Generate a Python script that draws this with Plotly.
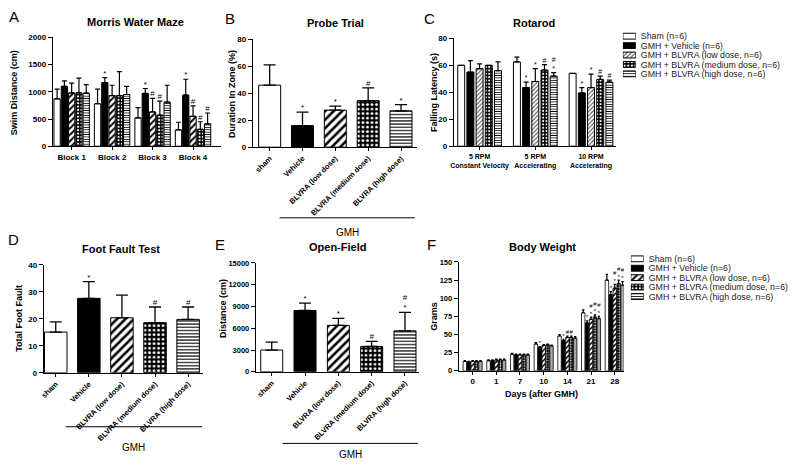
import plotly.graph_objects as go
import numpy as np

W, H = 800, 470
FONT = "Liberation Sans, Arial, sans-serif"

# ---------------- data ----------------
groups = ["Sham (n=6)", "GMH + Vehicle (n=6)", "GMH + BLVRA (low dose, n=6)",
          "GMH + BLVRA (medium dose, n=6)", "GMH + BLVRA (high dose, n=6)"]

# A: Morris water maze (swim distance, cm)
mwm_blocks = ["Block 1", "Block 2", "Block 3", "Block 4"]
mwm_sham = [870, 780, 520, 300]
mwm_vehicle = [1100, 1170, 970, 940]
mwm_low = [980, 930, 630, 550]
mwm_medium = [980, 930, 570, 310]
mwm_high = [975, 950, 810, 410]
mwm_sham_sem = [180, 270, 190, 140]
mwm_vehicle_sem = [100, 90, 90, 290]
mwm_low_sem = [180, 190, 250, 190]
mwm_medium_sem = [270, 440, 260, 140]
mwm_high_sem = [155, 150, 310, 200]
mwm_sham_sig = ["", "", "", ""]
mwm_vehicle_sig = ["", "*", "*", "*"]
mwm_low_sig = ["", "", "#", "#"]
mwm_medium_sig = ["", "", "#", "#"]
mwm_high_sig = ["", "", "", "#"]

# treatment labels for B, D, E
treat_labels = ["sham", "Vehicle", "BLVRA (low dose)", "BLVRA (medium dose)", "BLVRA (high dose)"]

# B: probe trial (duration in zone, %)
probe_mean = [46, 16, 27.5, 34.5, 27]
probe_sem = [15, 10, 3, 9.5, 4.5]
probe_sig = ["", "*", "*", "#", "*"]

# C: rotarod (falling latency, s)
rota_conditions = ["5 RPM<br>Constant Velocity", "5 RPM<br>Accelerating", "10 RPM<br>Accelerating"]
rota_sham = [60, 62.5, 54]
rota_vehicle = [55, 43.5, 39.5]
rota_low = [57.5, 48, 43.5]
rota_medium = [60, 56.5, 49.5]
rota_high = [56, 52, 47.5]
rota_sham_sem = [0, 3.5, 0]
rota_vehicle_sem = [8.5, 4, 4]
rota_low_sem = [3.5, 9.5, 10]
rota_medium_sem = [0, 4, 2.5]
rota_high_sem = [6.5, 2.5, 1.5]
rota_sham_sig = ["", "", ""]
rota_vehicle_sig = ["", "*", "*"]
rota_low_sig = ["", "*", "*"]
rota_medium_sig = ["", "#", "#"]
rota_high_sig = ["", "#<br>*", "#"]

# D: foot fault test
foot_mean = [15.1, 27.6, 20.4, 18.6, 19.8]
foot_sem = [3.8, 6.2, 8.4, 5.8, 4.6]
foot_sig = ["", "*", "", "#", "#"]

# E: open field (distance, cm)
open_mean = [3000, 8450, 6400, 3500, 5650]
open_sem = [1100, 1000, 950, 700, 2550]
open_sig = ["", "*", "*", "#", "#<br>*"]

# F: body weight (grams)
bw_days = ["0", "1", "7", "10", "14", "21", "28"]
bw_sham = [13, 14, 23, 37, 48, 80, 125]
bw_vehicle = [12, 14, 22, 32.5, 41.5, 66, 105]
bw_low = [13, 15, 22, 35, 46, 71, 114]
bw_medium = [13, 15, 22, 36, 46, 74, 120]
bw_high = [13, 15, 22, 34.5, 45, 72, 118]
bw_sham_sem = [1, 1, 1, 2, 2, 4, 8]
bw_vehicle_sem = [1, 1, 1, 1, 2, 3, 4]
bw_low_sem = [1, 1, 1, 1, 2, 3, 5]
bw_medium_sem = [1, 1, 1, 1, 2, 3, 5]
bw_high_sem = [1, 1, 1, 1, 2, 3, 5]
bw_sham_sig = ["", "", "", "", "", "", ""]
bw_vehicle_sig = ["", "", "", "*", "*", "*", "*"]
bw_low_sig = ["", "", "", "", "#", "#<br>*", "#<br>*"]
bw_medium_sig = ["", "", "", "", "#", "#<br>*", "#<br>*"]
bw_high_sig = ["", "", "", "", "", "#<br>*", "#<br>*"]

# ---------------- helpers ----------------
def xd(a, b):
    return [a / W, b / W]


def yd(top, bottom):
    return [1 - bottom / H, 1 - top / H]


def marker_for(i, scale=1.0, low_gray=False, lw=1.0):
    line = dict(color="black", width=lw)
    if i == 0:
        return dict(color="white", line=line)
    if i == 1:
        return dict(color="black", line=line)
    if i == 2:
        if low_gray:
            return dict(color="white", line=line,
                        pattern=dict(shape="/", fgcolor="#555", bgcolor="white",
                                     size=3, solidity=0.35, fillmode="replace"))
        return dict(color="white", line=line,
                    pattern=dict(shape="/", fgcolor="black", bgcolor="white",
                                 size=6 * scale, solidity=0.42, fillmode="replace"))
    if i == 3:
        return dict(color="black", line=line,
                    pattern=dict(shape=".", fgcolor="white", bgcolor="black",
                                 size=4.5 * scale, solidity=0.3, fillmode="replace"))
    return dict(color="white", line=line,
                pattern=dict(shape="-", fgcolor="black", bgcolor="white",
                             size=3.2 * scale, solidity=0.35, fillmode="replace"))


fig = go.Figure()


def add_grouped(ax, series, sems, sigs, step, width, cap, sigsize, scale=1.0,
                low_gray=False, lw=1.0):
    for i, (vals, sem, sig) in enumerate(zip(series, sems, sigs)):
        xs = np.arange(len(vals)) + (i - 2) * step
        fig.add_trace(go.Bar(
            x=xs, y=vals, width=width, xaxis="x" + ax, yaxis="y" + ax,
            marker=marker_for(i, scale, low_gray, lw),
            error_y=dict(type="data", array=sem, arrayminus=[0] * len(sem),
                         symmetric=False, color="black", thickness=1.2, width=cap),
            showlegend=False, hoverinfo="skip"))
        tops = [v + s for v, s in zip(vals, sem)]
        fig.add_trace(go.Scatter(
            x=xs, y=tops, mode="text", text=sig, textposition="top center",
            textfont=dict(family=FONT, size=sigsize, color="black"),
            xaxis="x" + ax, yaxis="y" + ax, cliponaxis=False,
            showlegend=False, hoverinfo="skip"))


def add_single(ax, means, sems, sigs, width, cap, sigsize):
    for i in range(len(means)):
        fig.add_trace(go.Bar(
            x=[i], y=[means[i]], width=width, xaxis="x" + ax, yaxis="y" + ax,
            marker=marker_for(i),
            error_y=dict(type="data", array=[sems[i]], arrayminus=[0],
                         symmetric=False, color="black", thickness=1.3, width=cap),
            showlegend=False, hoverinfo="skip"))
    tops = [m + s for m, s in zip(means, sems)]
    fig.add_trace(go.Scatter(
        x=list(range(len(means))), y=tops, mode="text", text=sigs,
        textposition="top center",
        textfont=dict(family=FONT, size=sigsize, color="black"),
        xaxis="x" + ax, yaxis="y" + ax, cliponaxis=False,
        showlegend=False, hoverinfo="skip"))


def add_legend_swatches(ax):
    for i, name in enumerate(groups):
        fig.add_trace(go.Bar(
            x=[1], y=[name], orientation="h", width=0.62,
            xaxis="x" + ax, yaxis="y" + ax,
            marker=marker_for(i, 0.8, low_gray=(ax == "7")),
            showlegend=False, hoverinfo="skip"))


# A
add_grouped("", [mwm_sham, mwm_vehicle, mwm_low, mwm_medium, mwm_high],
            [mwm_sham_sem, mwm_vehicle_sem, mwm_low_sem, mwm_medium_sem, mwm_high_sem],
            [mwm_sham_sig, mwm_vehicle_sig, mwm_low_sig, mwm_medium_sig, mwm_high_sig],
            step=0.18, width=0.155, cap=2.5, sigsize=8, scale=0.75)
# B
add_single("2", probe_mean, probe_sem, probe_sig, width=0.67, cap=6, sigsize=8)
# C
add_grouped("3", [rota_sham, rota_vehicle, rota_low, rota_medium, rota_high],
            [rota_sham_sem, rota_vehicle_sem, rota_low_sem, rota_medium_sem, rota_high_sem],
            [rota_sham_sig, rota_vehicle_sig, rota_low_sig, rota_medium_sig, rota_high_sig],
            step=0.165, width=0.125, cap=2.5, sigsize=7, scale=0.75, low_gray=True)
# D
add_single("4", foot_mean, foot_sem, foot_sig, width=0.68, cap=6, sigsize=8)
# E
add_single("5", open_mean, open_sem, open_sig, width=0.66, cap=6, sigsize=8)
# F
add_grouped("6", [bw_sham, bw_vehicle, bw_low, bw_medium, bw_high],
            [bw_sham_sem, bw_vehicle_sem, bw_low_sem, bw_medium_sem, bw_high_sem],
            [bw_sham_sig, bw_vehicle_sig, bw_low_sig, bw_medium_sig, bw_high_sig],
            step=0.165, width=0.145, cap=1.2, sigsize=6, scale=0.6, lw=0.8)
# legends
add_legend_swatches("7")
add_legend_swatches("8")

tickf = dict(family=FONT, size=8, color="black", weight="bold")
axis_common = dict(showgrid=False, zeroline=False, showline=True, linecolor="black",
                   linewidth=1, ticks="outside", ticklen=4, tickwidth=1,
                   tickcolor="black", tickfont=tickf, fixedrange=True)


def yaxis(dom, rng, dtick, xa, size=8):
    d = dict(axis_common)
    d.update(domain=dom, range=rng, dtick=dtick, anchor=xa, tickformat="d",
             tickfont=dict(family=FONT, size=size, color="black", weight="bold"))
    return d


def xaxis(dom, rng, labels, ya, angle=0, size=8):
    d = dict(axis_common)
    d.update(domain=dom, range=rng, anchor=ya, tickmode="array",
             tickvals=list(range(len(labels))), ticktext=labels, tickangle=angle,
             ticklen=3, tickfont=dict(family=FONT, size=size, color="black", weight="bold"))
    return d


def legend_y(dom, xa):
    return dict(domain=dom, anchor=xa, side="right", type="category",
                categoryorder="array", categoryarray=groups, autorange="reversed",
                tickmode="array", tickvals=groups, ticktext=groups,
                showline=False, showgrid=False, zeroline=False, ticks="",
                ticklabelstandoff=4, fixedrange=True,
                tickfont=dict(family=FONT, size=8.8, color="#222"))


layout = dict(
    width=W, height=H, margin=dict(l=0, r=0, t=0, b=0),
    paper_bgcolor="white", plot_bgcolor="white", barmode="overlay",
    showlegend=False, font=dict(family=FONT, color="black"),
    xaxis=xaxis(xd(49, 218), [-0.467, 3.689], mwm_blocks, "y"),
    yaxis=yaxis(yd(34, 145), [0, 2000], 500, "x"),
    xaxis2=xaxis(xd(250, 415), [-0.515, 4.485], treat_labels, "y2", angle=-45, size=7.5),
    yaxis2=yaxis(yd(36, 146), [0, 80], 20, "x2"),
    xaxis3=xaxis(xd(452, 615), [-0.464, 2.447], rota_conditions, "y3", size=7),
    yaxis3=yaxis(yd(35, 145), [0, 80], 20, "x3"),
    xaxis4=xaxis(xd(40, 200), [-0.361, 4.45], treat_labels, "y4", angle=-45, size=7.5),
    yaxis4=yaxis(yd(266, 376), [0, 40], 10, "x4"),
    xaxis5=xaxis(xd(253, 417), [-0.48, 4.418], treat_labels, "y5", angle=-45, size=7.5),
    yaxis5=yaxis(yd(264, 375), [0, 15000], 3000, "x5", size=7.5),
    xaxis6=xaxis(xd(457, 623), [-0.588, 6.387], bw_days, "y6", size=8),
    yaxis6=yaxis(yd(263, 374), [0, 150], 25, "x6", size=7.5),
    xaxis7=dict(domain=xd(622, 635), range=[0, 1], visible=False, anchor="y7", fixedrange=True),
    yaxis7=legend_y(yd(28, 76), "x7"),
    xaxis8=dict(domain=xd(630, 643), range=[0, 1], visible=False, anchor="y8", fixedrange=True),
    yaxis8=legend_y(yd(255, 303), "x8"),
)
fig.update_layout(**layout)


def ann(text, x, y, size, bold=False, angle=0, xanchor="center"):
    fig.add_annotation(text=text, x=x / W, y=1 - y / H, xref="paper", yref="paper",
                       showarrow=False, textangle=angle, xanchor=xanchor, yanchor="middle",
                       font=dict(family=FONT, size=size, color="black",
                                 weight="bold" if bold else "normal"))


# panel letters
for letter, px, py in [("A", 10, 13), ("B", 227, 15), ("C", 428, 15),
                       ("D", 10, 240), ("E", 217, 245), ("F", 430, 245)]:
    ann(letter, px, py, 15)

# titles
for t, px, py in [("Morris Water Maze", 132, 18), ("Probe Trial", 333, 19),
                  ("Rotarod", 533, 19), ("Foot Fault Test", 118, 250),
                  ("Open-Field", 335, 248), ("Body Weight", 541, 248)]:
    ann(t, px, py, 11, bold=True)

# axis titles
for t, px, py in [("Swim Distance (cm)", 10, 90), ("Duration In Zone (%)", 229, 92),
                  ("Falling Latency (s)", 432, 90), ("Total Foot Fault", 15, 320),
                  ("Distance (cm)", 220, 310), ("Grams", 432, 318)]:
    ann(t, px, py, 9, bold=True, angle=-90)
ann("Days (after GMH)", 540, 398, 9, bold=True)

# GMH brackets
for x0, x1, ly, tx, ty in [(277, 413, 218, 345, 233), (62, 199, 431, 130, 452),
                           (280, 416, 448, 348, 459)]:
    fig.add_shape(type="line", xref="paper", yref="paper", x0=x0 / W, x1=x1 / W,
                  y0=1 - ly / H, y1=1 - ly / H, line=dict(color="black", width=1))
    ann("GMH", tx, ty, 10)

fig.write_html("out.html", config={"displayModeBar": False},
               post_script="document.body.style.margin='0';document.body.style.overflow='hidden';")
